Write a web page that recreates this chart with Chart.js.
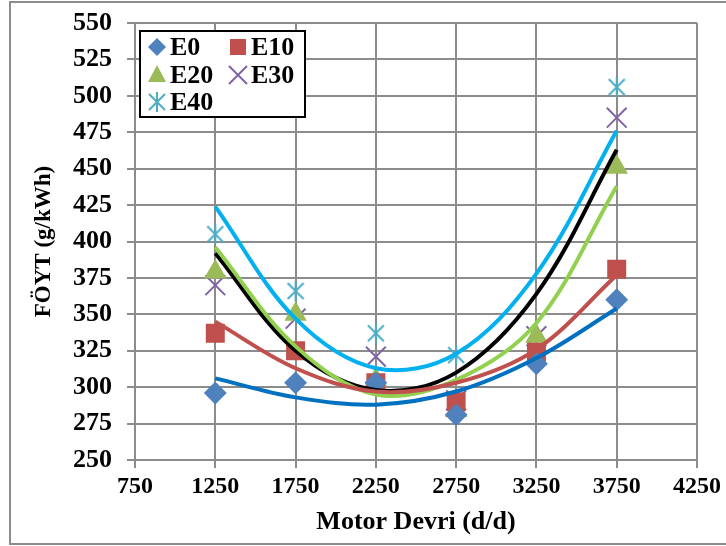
<!DOCTYPE html>
<html>
<head>
<meta charset="utf-8">
<script src="https://cdn.jsdelivr.net/npm/chart.js@4.4.1/dist/chart.umd.min.js"></script>
<style>
  html, body { margin: 0; padding: 0; background: #fff; }
  canvas { display: block; }
</style>
</head>
<body>
<canvas id="chart" width="726" height="546"></canvas>
<script>
// engine speed (d/d)
const rpm = [1250, 1750, 2250, 2750, 3250, 3750];

// measured FÖYT values (g/kWh)
const e0 = [296, 303, 303, 281, 316, 360];
const e10 = [337, 325, 303, 290, 324, 381];
const e20 = [379, 350, 305, 284, 335, 451];
const e30 = [370, 347, 321, 291, 335, 485];
const e40 = [405, 366, 337, 322, 324, 506];

// polynomial trend lines
const e0Trend = [306, 293, 288, 297, 320, 354];
const e10Trend = [345, 313, 297, 303, 326, 377];
const e20Trend = [396, 328, 295, 305, 344, 438];
const e30Trend = [392, 325, 298, 310, 364, 463];
const e40Trend = [424, 347, 313, 323, 378, 476];

const xTicks = [750, 1250, 1750, 2250, 2750, 3250, 3750, 4250];
const yTicks = [250, 275, 300, 325, 350, 375, 400, 425, 450, 475, 500, 525, 550];

const FONT = "'Liberation Serif', 'Times New Roman', serif";
const GRID = '#8c8c8c';

function pts(values) {
    return rpm.map((x, i) => ({ x: x, y: values[i] }));
}

// Excel style asterisk marker (X plus vertical bar)
function asteriskImage(color, size) {
    const c = document.createElement('canvas');
    c.width = size; c.height = size;
    const g = c.getContext('2d');
    g.strokeStyle = color;
    g.lineWidth = 2;
    const m = size / 2, r = size / 2 - 1;
    g.beginPath();
    g.moveTo(m - r * 0.8, m - r * 0.8); g.lineTo(m + r * 0.8, m + r * 0.8);
    g.moveTo(m + r * 0.8, m - r * 0.8); g.lineTo(m - r * 0.8, m + r * 0.8);
    g.moveTo(m, m - r); g.lineTo(m, m + r);
    g.stroke();
    return c;
}
const starImg = asteriskImage('#4BACC6', 22);

const series = [
    { label: 'E0', data: e0, color: '#4F81BD', style: 'rectRot', radius: 10 },
    { label: 'E10', data: e10, color: '#C0504D', style: 'rect', radius: 12 },
    { label: 'E20', data: e20, color: '#9BBB59', style: 'triangle', radius: 11 },
    { label: 'E30', data: e30, color: '#8064A2', style: 'crossRot', radius: 14 },
    { label: 'E40', data: e40, color: '#4BACC6', style: starImg, radius: 11 }
];
const trends = [
    { data: e0Trend, color: '#0070C0' },
    { data: e10Trend, color: '#C0504D' },
    { data: e20Trend, color: '#92D050' },
    { data: e30Trend, color: '#000000' },
    { data: e40Trend, color: '#00B0F0' }
];

const datasets = [];
trends.forEach(t => {
    datasets.push({
        label: 'trend',
        data: pts(t.data),
        showLine: true,
        borderColor: t.color,
        borderWidth: 4,
        pointRadius: 0,
        tension: 0.35,
        order: 0
    });
});
series.forEach(s => {
    datasets.push({
        label: s.label,
        data: pts(s.data),
        showLine: false,
        pointStyle: s.style,
        pointRadius: s.radius,
        pointHoverRadius: s.radius,
        backgroundColor: s.color,
        borderColor: s.color,
        pointBorderWidth: 2,
        order: 1
    });
});

function drawMarker(ctx, s, x, y) {
    ctx.save();
    ctx.fillStyle = s.color;
    ctx.strokeStyle = s.color;
    ctx.lineWidth = 2;
    ctx.beginPath();
    if (s.style === 'rectRot') {
        ctx.moveTo(x, y - 9); ctx.lineTo(x + 9, y); ctx.lineTo(x, y + 9); ctx.lineTo(x - 9, y);
        ctx.closePath(); ctx.fill();
    } else if (s.style === 'rect') {
        ctx.rect(x - 8, y - 8, 16, 16); ctx.fill();
    } else if (s.style === 'triangle') {
        ctx.moveTo(x, y - 10); ctx.lineTo(x + 9, y + 7); ctx.lineTo(x - 9, y + 7);
        ctx.closePath(); ctx.fill();
    } else if (s.style === 'crossRot') {
        ctx.moveTo(x - 9, y - 9); ctx.lineTo(x + 9, y + 9);
        ctx.moveTo(x + 9, y - 9); ctx.lineTo(x - 9, y + 9);
        ctx.stroke();
    } else {
        ctx.drawImage(s.style, x - s.style.width / 2, y - s.style.height / 2);
    }
    ctx.restore();
}

const framePlugin = {
    id: 'frame',
    beforeDraw(chart) {
        const ctx = chart.ctx;
        ctx.save();
        ctx.fillStyle = '#ffffff';
        ctx.fillRect(0, 0, chart.width, chart.height);
        ctx.strokeStyle = '#8c8c8c';
        ctx.lineWidth = 2;
        ctx.strokeRect(10, 2, 730, 542);
        ctx.restore();
    },
    afterDraw(chart) {
        const ctx = chart.ctx;
        ctx.save();
        ctx.fillStyle = '#ffffff';
        ctx.fillRect(140, 31, 165, 86);
        ctx.strokeStyle = '#000000';
        ctx.lineWidth = 2;
        ctx.strokeRect(140, 31, 165, 86);
        const cols = [157, 238];
        const rows = [47, 75, 102];
        ctx.font = 'bold 26px ' + FONT;
        ctx.textBaseline = 'middle';
        series.forEach((s, i) => {
            const x = cols[i % 2], y = rows[Math.floor(i / 2)];
            drawMarker(ctx, s, x, y);
            ctx.fillStyle = '#000000';
            ctx.fillText(s.label, x + 13, y + 1);
        });
        ctx.restore();
    }
};

new Chart(document.getElementById('chart'), {
    type: 'scatter',
    data: { datasets: datasets },
    options: {
        responsive: false,
        animation: false,
        devicePixelRatio: 1,
        layout: { padding: { left: 0, top: 23, right: 29, bottom: 0 } },
        plugins: {
            legend: { display: false },
            tooltip: { enabled: false }
        },
        scales: {
            x: {
                type: 'linear',
                min: 750,
                max: 4250,
                afterBuildTicks: scale => { scale.ticks = xTicks.map(v => ({ value: v })); },
                afterFit: scale => {
                    scale.height = 86;
                    scale.paddingLeft = 0;
                    scale.paddingRight = 0;
                },
                grid: { color: GRID, lineWidth: 2, tickLength: 8, tickColor: GRID },
                border: { color: GRID, width: 2 },
                ticks: {
                    color: '#000',
                    padding: 4,
                    maxRotation: 0,
                    callback: v => String(v),
                    font: { family: FONT, size: 24, weight: 'bold' }
                },
                title: {
                    display: true,
                    text: 'Motor Devri (d/d)',
                    color: '#000',
                    padding: { top: 0, bottom: 8 },
                    font: { family: FONT, size: 26, weight: 'bold' }
                }
            },
            y: {
                type: 'linear',
                min: 250,
                max: 550,
                afterBuildTicks: scale => { scale.ticks = yTicks.map(v => ({ value: v })); },
                afterFit: scale => {
                    scale.width = 135;
                    scale.paddingTop = 0;
                    scale.paddingBottom = 0;
                },
                grid: { color: GRID, lineWidth: 2, tickLength: 8, tickColor: GRID },
                border: { color: GRID, width: 2 },
                ticks: {
                    color: '#000',
                    padding: 15,
                    callback: v => String(v),
                    font: { family: FONT, size: 26, weight: 'bold' }
                },
                title: {
                    display: true,
                    text: 'FÖYT (g/kWh)',
                    color: '#000',
                    padding: { top: 30, bottom: 0 },
                    font: { family: FONT, size: 23, weight: 'bold' }
                }
            }
        }
    },
    plugins: [framePlugin]
});
</script>
</body>
</html>
